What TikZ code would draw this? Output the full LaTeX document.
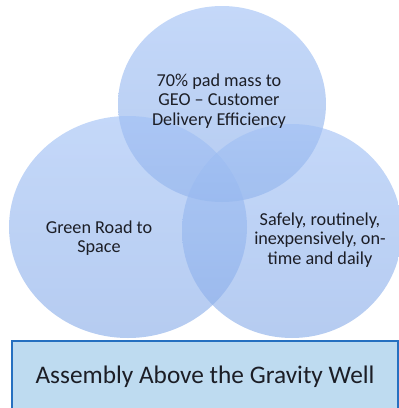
\documentclass[tikz,border=0pt]{standalone}
\usepackage{fontspec}
\setmainfont{Carlito}
\definecolor{bubbletop}{RGB}{160,192,245}
\definecolor{bubblebot}{RGB}{136,172,232}
\definecolor{wellfill}{RGB}{190,219,240}
\definecolor{welldraw}{RGB}{38,112,192}
\definecolor{inktext}{RGB}{28,30,38}

\begin{document}
\begin{tikzpicture}[x=1pt,y=-1pt,
  bubble/.style={top color=bubbletop,bottom color=bubblebot,fill opacity=0.62},
  bubbletext/.style={align=center,text=inktext,font=\fontsize{18.2}{19.5}\selectfont},
  wellbox/.style={draw=welldraw,line width=2.6pt,fill=wellfill,text=inktext,
    minimum width=386pt,minimum height=72pt,inner sep=0pt,
    font=\fontsize{25.3}{30}\selectfont}]

  \clip (0,0) rectangle (399,408);

  % three overlapping bubbles
  \coordinate (geo) at (222,104);
  \coordinate (green) at (128,227);
  \coordinate (safe) at (292,231);

  \shade[bubble] (geo) ellipse [x radius=104, y radius=98];
  \shade[bubble] (green) ellipse [x radius=119, y radius=111];
  \shade[bubble] (safe) ellipse [x radius=110, y radius=107];

  \node[bubbletext] (geotext) at (219,101) {70\% pad mass to\\GEO -- Customer\\Delivery Efficiency};
  \node[bubbletext] (greentext) at (99,238) {Green Road to\\Space};
  \node[bubbletext] (safetext) at (320,240) {Safely, routinely,\\inexpensively, on-\\time and daily};

  % base bar
  \node[wellbox] (well) at (205,377) {Assembly Above the Gravity Well};

\end{tikzpicture}
\end{document}
